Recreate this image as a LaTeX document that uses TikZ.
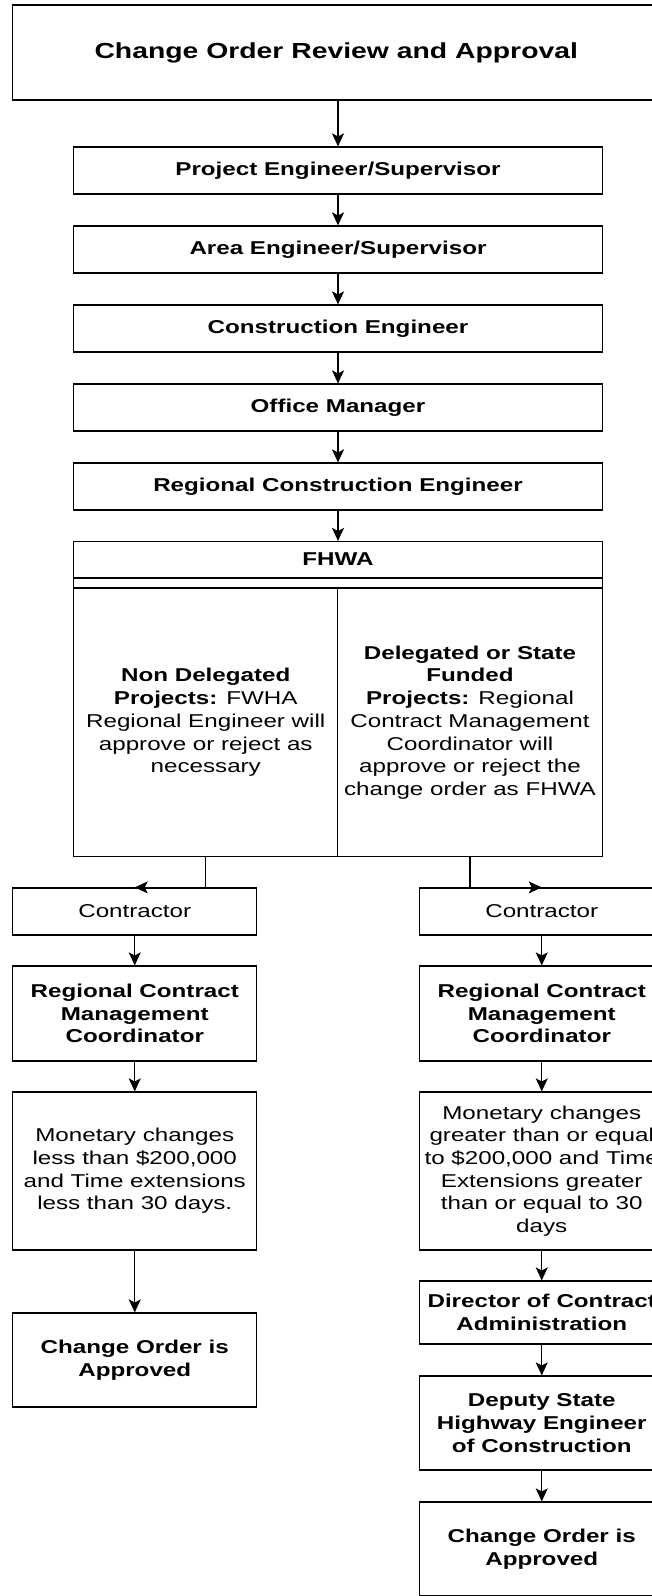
\documentclass[tikz,border=0pt]{standalone}
\usepackage{fontspec}
\setmainfont{Liberation Sans}[FakeStretch=1.3]
\usepackage{tikz}
\usetikzlibrary{arrows.meta}
\tikzstyle{titlebox} = [rectangle, minimum width=647.5pt, minimum height=95pt, inner sep=0pt, text centered, draw=black, line width=1.2pt, font=\fontsize{21.8}{26}\selectfont\bfseries]
\tikzstyle{process} = [rectangle, minimum width=528.5pt, minimum height=47pt, inner sep=0pt, text centered, draw=black, line width=1.2pt, font=\fontsize{18.6}{22.7}\selectfont\bfseries]
\tikzstyle{column} = [rectangle, minimum width=264.25pt, minimum height=268pt, inner sep=0pt, align=center, draw=black, line width=1.2pt, font=\fontsize{18.6}{22.7}\selectfont]
\tikzstyle{side} = [rectangle, minimum width=244pt, inner sep=0pt, align=center, draw=black, line width=1.2pt, font=\fontsize{18.6}{22.7}\selectfont]
\tikzstyle{arrow} = [-{Stealth[length=13pt,width=12pt,inset=3pt]}, line width=1.2pt]

\begin{document}
\begin{tikzpicture}[node distance=79pt]
        \useasboundingbox (0,0) rectangle (651pt,-1596pt);
        \node[titlebox] (title) at (336.25pt,-52.5pt) {Change Order Review and Approval};
        \node[process,below of=title,yshift=-39pt,xshift=1.75pt](proj){Project Engineer/Supervisor};
        \node[process,below of=proj](area){Area Engineer/Supervisor};
        \node[process,below of=area](constr){Construction Engineer};
        \node[process,below of=constr](office){Office Manager};
        \node[process,below of=office](rce){Regional Construction Engineer};
        \node[process,below of=rce,yshift=6pt,minimum height=36pt](fhwa){FHWA};
        \node[column,below of=fhwa,yshift=-84pt,xshift=-132.25pt](nondel){\textbf{Non Delegated}\\\textbf{Projects:} FWHA\\Regional Engineer will\\approve or reject as\\necessary};
        \node[column,right of=nondel,xshift=185.25pt](deleg){\textbf{Delegated or State}\\\textbf{Funded}\\\textbf{Projects:} Regional\\Contract Management\\Coordinator will\\approve or reject the\\change order as FHWA};
        % left branch
        \node[side,below of=nondel,yshift=-110pt,xshift=-71pt,minimum height=47pt](contrL){Contractor};
        \node[side,below of=contrL,yshift=-23pt,minimum height=95pt,font=\fontsize{18.6}{22.7}\selectfont\bfseries](rcmcL){Regional Contract\\Management\\Coordinator};
        \node[side,below of=rcmcL,yshift=-78.5pt,minimum height=158pt](monL){Monetary changes\\less than \$200,000\\and Time extensions\\less than 30 days.};
        \node[side,below of=monL,yshift=-110pt,minimum height=94pt,font=\fontsize{18.6}{22.7}\selectfont\bfseries](apprL){Change Order is\\Approved};
        % right branch
        \node[side,below of=deleg,yshift=-110pt,xshift=71.75pt,minimum height=47pt](contrR){Contractor};
        \node[side,below of=contrR,yshift=-23pt,minimum height=95pt,font=\fontsize{18.6}{22.7}\selectfont\bfseries](rcmcR){Regional Contract\\Management\\Coordinator};
        \node[side,below of=rcmcR,yshift=-78.5pt,minimum height=158pt](monR){Monetary changes\\greater than or equal\\to \$200,000 and Time\\Extensions greater\\than or equal to 30\\days};
        \node[side,below of=monR,yshift=-62.5pt,minimum height=63pt,font=\fontsize{18.6}{22.7}\selectfont\bfseries](dirR){Director of Contract\\Administration};
        \node[side,below of=dirR,yshift=-31.5pt,minimum height=94pt,font=\fontsize{18.6}{22.7}\selectfont\bfseries](depR){Deputy State\\Highway Engineer\\of Construction};
        \node[side,below of=depR,yshift=-47pt,minimum height=94pt,font=\fontsize{18.6}{22.7}\selectfont\bfseries](apprR){Change Order is\\Approved};

        \draw[line width=1.2pt] (fhwa.south west) rectangle (deleg.north east);
        \draw [arrow] (title.south -| proj) -- (proj);
        \draw [arrow] (proj) -- (area);
        \draw [arrow] (area) -- (constr);
        \draw [arrow] (constr) -- (office);
        \draw [arrow] (office) -- (rce);
        \draw [arrow] (rce) -- (fhwa);
        \draw [arrow] (nondel.south) |- (contrL.north);
        \draw [arrow] (deleg.south) |- (contrR.north);
        \draw [arrow] (contrL) -- (rcmcL);
        \draw [arrow] (rcmcL) -- (monL);
        \draw [arrow] (monL) -- (apprL);
        \draw [arrow] (contrR) -- (rcmcR);
        \draw [arrow] (rcmcR) -- (monR);
        \draw [arrow] (monR) -- (dirR);
        \draw [arrow] (dirR) -- (depR);
        \draw [arrow] (depR) -- (apprR);
    \end{tikzpicture}
\end{document}
